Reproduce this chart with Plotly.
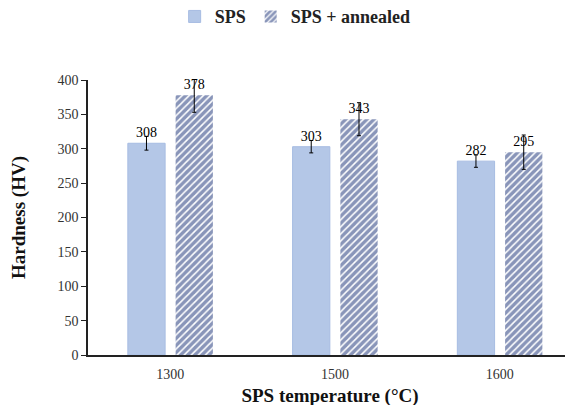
import plotly.graph_objects as go

categories = ["1300", "1500", "1600"]
sps_values = [308, 303, 282]
annealed_values = [378, 343, 295]
sps_err = [10, 9, 9]
annealed_err = [25, 24, 25]
y_ticks = [0, 50, 100, 150, 200, 250, 300, 350, 400]

FONT = "Liberation Serif, Times New Roman, serif"

fig = go.Figure()
fig.add_trace(go.Bar(
    name="SPS", x=categories, y=sps_values,
    marker=dict(color="#B4C7E7", line=dict(color="#A7BCE2", width=1)),
    error_y=dict(type="data", array=sps_err, color="black", thickness=1, width=2),
    text=[str(v) for v in sps_values], textposition="outside",
    textfont=dict(family=FONT, size=14, color="black"), cliponaxis=False,
))
fig.add_trace(go.Bar(
    name="SPS + annealed", x=categories, y=annealed_values,
    marker=dict(color="white", line=dict(color="white", width=0),
                pattern=dict(shape="/", fgcolor="#142C74", bgcolor="white",
                             size=5, solidity=0.7)),
    error_y=dict(type="data", array=annealed_err, color="black", thickness=1, width=2),
    text=[str(v) for v in annealed_values], textposition="outside",
    textfont=dict(family=FONT, size=14, color="black"), cliponaxis=False,
))

fig.update_layout(
    width=573, height=405,
    margin=dict(l=80, r=9, t=72, b=58, autoexpand=False),
    paper_bgcolor="white", plot_bgcolor="white",
    barmode="group", bargap=0.42, bargroupgap=0.22,
    font=dict(family=FONT, color="black"),
    showlegend=True,
    legend=dict(orientation="h", x=0.428, xanchor="center", y=1.23, yanchor="middle",
                font=dict(family=FONT, size=18, color="#222222", weight="bold"),
                itemwidth=30, traceorder="normal"),
    xaxis=dict(range=[-0.5, 2.438], showline=True, linecolor="#222222", linewidth=1.5,
               ticks="", showgrid=False, automargin=False, ticklabelstandoff=5,
               tickfont=dict(family=FONT, size=14, color="#333333"),
               title=dict(text="SPS temperature (°C)", standoff=8,
                          font=dict(family=FONT, size=19, weight="bold", color="#111111"))),
    yaxis=dict(range=[0, 400], tickvals=y_ticks, showline=True, linecolor="#222222",
               linewidth=1.5, ticks="outside", ticklen=5, tickcolor="#222222",
               showgrid=False, zeroline=False, automargin=False,
               tickfont=dict(family=FONT, size=14, color="#333333"),
               title=dict(text="Hardness (HV)", standoff=28,
                          font=dict(family=FONT, size=19, weight="bold", color="#111111"))),
)

fig.write_html("out.html")
